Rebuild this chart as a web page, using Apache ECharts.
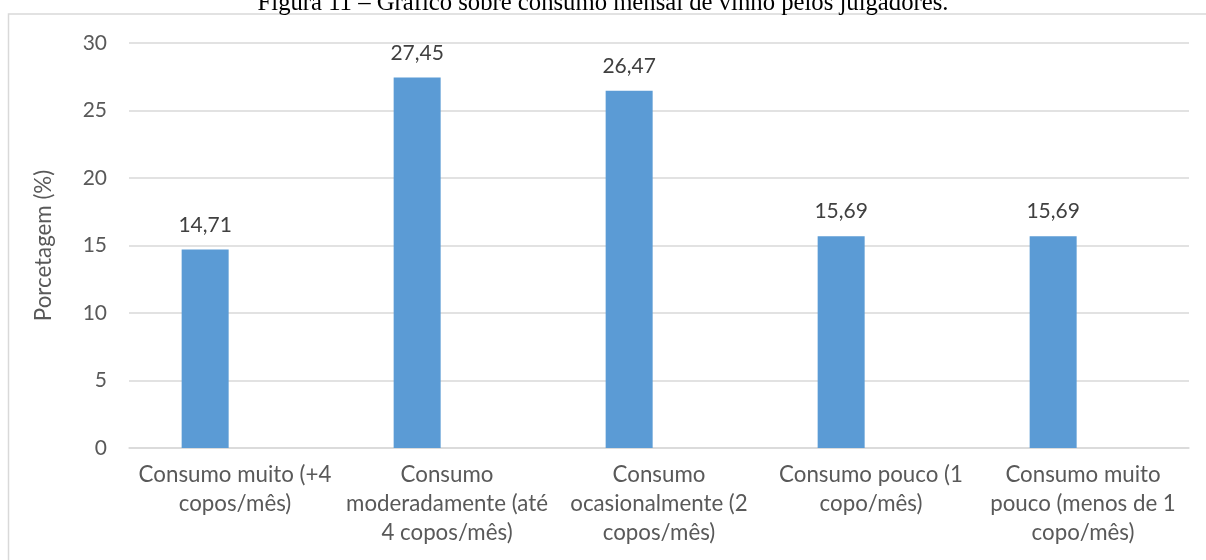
<!DOCTYPE html>
<html>
<head>
<meta charset="utf-8">
<script src="https://cdn.jsdelivr.net/npm/echarts@6/dist/echarts.min.js"></script>
<style>
  html, body { margin: 0; padding: 0; background: #ffffff; }
  #chart { width: 1206px; height: 560px; }
</style>
</head>
<body>
<div id="chart"></div>
<script>
// Monthly wine consumption reported by the tasting panel
const titleText = 'Figura 11 – Gráfico sobre consumo mensal de vinho pelos julgadores.';
const categories = [
  'Consumo muito (+4\ncopos/mês)',
  'Consumo\nmoderadamente (até\n4 copos/mês)',
  'Consumo\nocasionalmente (2\ncopos/mês)',
  'Consumo pouco (1\ncopo/mês)',
  'Consumo muito\npouco (menos de 1\ncopo/mês)'
];
const percentages = [14.71, 27.45, 26.47, 15.69, 15.69];
// empty companion series (keeps the clustered-bar slot beside each bar)
const emptySeries = [null, null, null, null, null];
const yTicks = [0, 5, 10, 15, 20, 25, 30];

const font = 'Lato, "Open Sans", sans-serif';
const chart = echarts.init(document.getElementById('chart'), null, { renderer: 'canvas' });

chart.setOption({
  backgroundColor: '#ffffff',
  animation: false,
  textStyle: { fontFamily: font },
  graphic: [
    {
      type: 'rect',
      shape: { x: 8.5, y: 14, width: 1400, height: 800 },
      style: { fill: 'none', stroke: '#d9d9d9', lineWidth: 1.5 },
      silent: true,
      z: -10
    },
    {
      type: 'text',
      left: 'center',
      top: -9,
      style: {
        text: titleText,
        fontFamily: '"Liberation Serif", "Times New Roman", serif',
        fontSize: 24.7,
        fill: '#000000'
      }
    }
  ],
  grid: { left: 129, right: 17, top: 43, bottom: 112, containLabel: false },
  xAxis: {
    type: 'category',
    data: categories,
    axisLine: { show: true, lineStyle: { color: '#d9d9d9', width: 1.5 } },
    axisTick: { show: false },
    axisLabel: {
      interval: 0,
      color: '#595959',
      fontSize: 22.3,
      lineHeight: 29,
      margin: 12,
      align: 'center',
      fontFamily: font
    }
  },
  yAxis: {
    type: 'value',
    min: yTicks[0],
    max: yTicks[yTicks.length - 1],
    interval: 5,
    name: 'Porcetagem (%)',
    nameLocation: 'middle',
    nameRotate: 90,
    nameGap: 74,
    nameTextStyle: { color: '#595959', fontSize: 22.3, fontFamily: font },
    axisLine: { show: false },
    axisTick: { show: false },
    axisLabel: { color: '#595959', fontSize: 21, margin: 22, fontFamily: font },
    splitLine: { lineStyle: { color: '#d9d9d9', width: 1.5 } }
  },
  series: [
    {
      type: 'bar',
      data: percentages,
      barWidth: 47,
      barGap: '27%',
      itemStyle: { color: '#5b9bd5' },
      label: {
        show: true,
        position: 'top',
        distance: 14,
        color: '#404040',
        fontSize: 21,
        fontFamily: font,
        formatter: p => p.value.toFixed(2).replace('.', ',')
      }
    },
    {
      type: 'bar',
      data: emptySeries,
      barWidth: 47,
      itemStyle: { color: '#ed7d31' }
    }
  ]
});
</script>
</body>
</html>
